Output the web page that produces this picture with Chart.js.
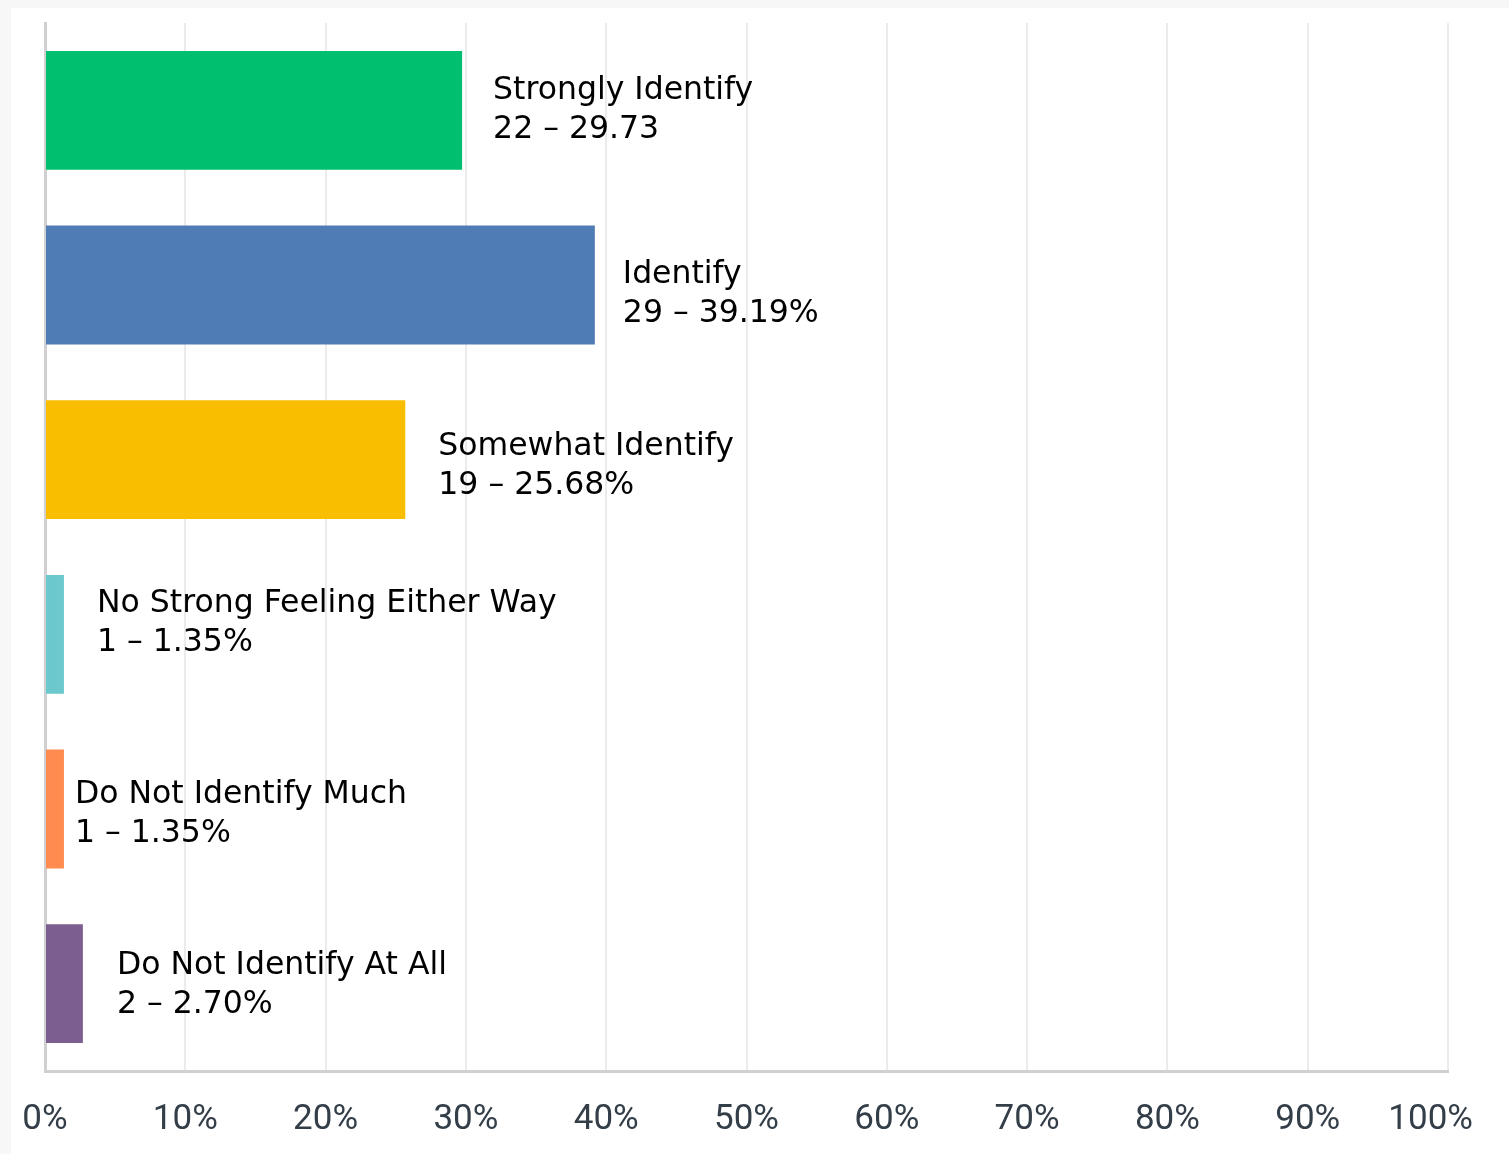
<!DOCTYPE html>
<html>
<head>
<meta charset="utf-8">
<script src="https://cdn.jsdelivr.net/npm/chart.js@4/dist/chart.umd.min.js"></script>
<style>
  html, body { margin: 0; padding: 0; background: #f7f7f7; width: 1509px; height: 1154px; overflow: hidden; }
  #wrap { position: absolute; left: 11px; top: 8px; width: 1498px; height: 1146px; background: #ffffff; }
  canvas { display: block; }
</style>
</head>
<body>
<div id="wrap"><canvas id="c" width="1498" height="1146"></canvas></div>
<script>
const categories = ["Strongly Identify", "Identify", "Somewhat Identify", "No Strong Feeling Either Way", "Do Not Identify Much", "Do Not Identify At All"];
const counts = [22, 29, 19, 1, 1, 2];
const percents = [29.73, 39.19, 25.68, 1.35, 1.35, 2.70];
const valueTexts = ["22 – 29.73", "29 – 39.19%", "19 – 25.68%", "1 – 1.35%", "1 – 1.35%", "2 – 2.70%"];
const barColors = ["#00bf6f", "#507cb6", "#f9be00", "#6bc8cd", "#ff8b4f", "#7d5e90"];
const tickLabels = ["0%", "10%", "20%", "30%", "40%", "50%", "60%", "70%", "80%", "90%", "100%"];

// label style tweaks (pixel offsets from bar end / bar centre)
const labelDx = [31, 28, 33, 33, 11, 34];
const labelDy = [0, 10, 7, -11, 6, 2];

const barLabelPlugin = {
  id: 'barLabels',
  afterDatasetsDraw(chart) {
    const ctx = chart.ctx;
    const meta = chart.getDatasetMeta(0);
    ctx.save();
    ctx.font = '31.5px "DejaVu Sans", sans-serif';
    ctx.fillStyle = '#000000';
    ctx.textAlign = 'left';
    ctx.textBaseline = 'middle';
    meta.data.forEach((bar, i) => {
      const x = bar.x + labelDx[i];
      const cy = bar.y + labelDy[i];
      ctx.fillText(categories[i], x, cy - 20);
      ctx.fillText(valueTexts[i], x, cy + 19);
    });
    ctx.restore();
  }
};

new Chart(document.getElementById('c'), {
  type: 'bar',
  data: {
    labels: categories,
    datasets: [{
      data: percents,
      backgroundColor: barColors,
      borderWidth: 0,
      barPercentage: 0.68,
      categoryPercentage: 1.0
    }]
  },
  options: {
    indexAxis: 'y',
    responsive: false,
    animation: false,
    devicePixelRatio: 1,
    layout: { padding: { left: 32, top: 15, right: 61, bottom: 0 } },
    plugins: { legend: { display: false }, tooltip: { enabled: false } },
    scales: {
      x: {
        min: 0, max: 100,
        ticks: {
          stepSize: 10,
          padding: 28,
          color: '#333e48',
          font: { family: 'Roboto, sans-serif', size: 35 },
          // last label nudged inward (as in the original) by trailing spaces
          callback: (v, i, arr) => (i === arr.length - 1 ? tickLabels[i] + '\u00a0\u00a0\u00a0\u00a0' : tickLabels[i])
        },
        grid: { color: '#ebebeb', lineWidth: 2, drawTicks: false },
        border: { display: true, color: '#d0d0d0', width: 3 },
        afterFit: (s) => { s.height = 83; s.paddingLeft = 0; s.paddingRight = 0; }
      },
      y: {
        ticks: { display: false },
        grid: { display: false, drawTicks: false },
        border: { display: true, color: '#d0d0d0', width: 3 },
        afterFit: (s) => { s.width = 2; s.paddingTop = 0; s.paddingBottom = 0; }
      }
    }
  },
  plugins: [barLabelPlugin]
});
</script>
</body>
</html>
